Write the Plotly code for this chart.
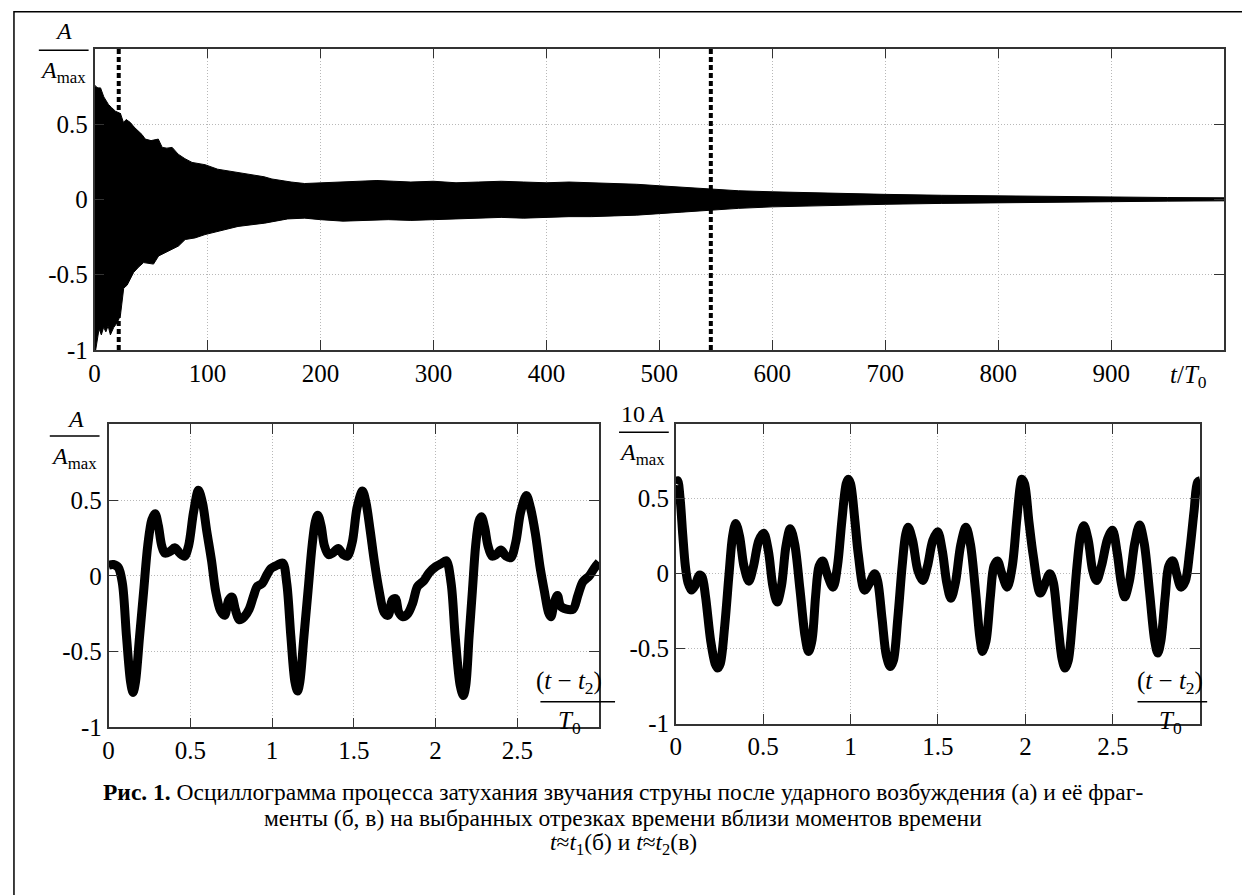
import plotly.graph_objects as go

W, H = 1242, 895
SERIF = "Liberation Serif"

# ---------------- data: panel (a) envelope of the decaying oscillogram ----------------
up_t = [0, 1, 3, 5.3, 8.2, 12.3, 15, 18.5, 22.9, 25.6, 28, 31.7, 35, 38.8, 42, 44.9, 50,
        56.4, 59.9, 64, 68.7, 74, 80, 86.3, 92, 97.8, 109, 118, 127, 135, 144, 150, 157,
        165, 174, 186, 200, 215, 230, 250, 265, 280, 300, 320, 340, 360, 380, 400, 420,
        440, 460, 480, 500, 520, 545, 570, 600, 630, 660, 700, 750, 800, 850, 900, 950, 1000]
up_a = [0.76, 0.75, 0.74, 0.74, 0.68, 0.63, 0.61, 0.585, 0.57, 0.51, 0.53, 0.51, 0.48, 0.455, 0.43, 0.40, 0.39,
        0.40, 0.345, 0.34, 0.345, 0.30, 0.27, 0.245, 0.24, 0.23, 0.20, 0.19, 0.18, 0.17, 0.16, 0.15, 0.135,
        0.125, 0.115, 0.105, 0.11, 0.115, 0.12, 0.125, 0.12, 0.115, 0.12, 0.11, 0.115, 0.12, 0.115, 0.11, 0.115,
        0.11, 0.105, 0.1, 0.09, 0.08, 0.068, 0.057, 0.05, 0.044, 0.038, 0.033, 0.027, 0.022, 0.018, 0.015, 0.012, 0.01]
lo_t = [0, 1, 2, 4, 6, 8, 10, 12, 14, 17, 20, 22.9, 25.8, 28.8, 34.6, 39, 43.4, 52.2, 56.7,
        65.5, 74.3, 80.2, 89, 97.8, 109.5, 127, 150.7, 171, 186, 200, 220, 240, 260, 280,
        300, 320, 340, 360, 380, 400, 420, 440, 460, 480, 500, 520, 545, 570, 600, 630,
        660, 700, 750, 800, 850, 900, 950, 1000]
lo_a = [-0.98, -1.0, -0.95, -0.86, -0.9, -0.85, -0.88, -0.84, -0.9, -0.85, -0.82, -0.77, -0.59, -0.57, -0.485, -0.45, -0.42, -0.43, -0.376,
        -0.343, -0.31, -0.267, -0.256, -0.234, -0.212, -0.18, -0.158, -0.13, -0.125, -0.135, -0.145, -0.14, -0.135, -0.14,
        -0.135, -0.13, -0.125, -0.12, -0.125, -0.12, -0.115, -0.115, -0.11, -0.105, -0.095, -0.085, -0.07, -0.06, -0.05, -0.044,
        -0.038, -0.033, -0.027, -0.022, -0.018, -0.015, -0.012, -0.01]
marker_t = [21.4, 545.6]

# ---------------- data: panel (б) fragment ----------------
b_t = [0.0, 0.03, 0.06, 0.085, 0.11, 0.135, 0.15, 0.165, 0.19, 0.215, 0.24, 0.265, 0.285, 0.305, 0.325,
       0.345, 0.375, 0.405, 0.435, 0.465, 0.49, 0.52, 0.55, 0.575, 0.6, 0.63, 0.655, 0.685, 0.71, 0.735,
       0.755, 0.775, 0.8, 0.83, 0.86, 0.885, 0.91, 0.94, 0.965, 0.995, 1.03, 1.065,
       1.09, 1.115, 1.14, 1.156, 1.17, 1.195, 1.22, 1.245, 1.265, 1.28, 1.3, 1.32, 1.345, 1.37, 1.405,
       1.435, 1.46, 1.49, 1.52, 1.553, 1.575, 1.6, 1.625, 1.655, 1.685, 1.71, 1.735, 1.755, 1.775, 1.8,
       1.83, 1.86, 1.89, 1.93, 1.96, 2.0, 2.035, 2.065,
       2.095, 2.12, 2.15, 2.17, 2.185, 2.205, 2.225, 2.245, 2.265, 2.28, 2.3, 2.32, 2.345, 2.37, 2.4,
       2.43, 2.46, 2.49, 2.52, 2.555, 2.58, 2.61, 2.64, 2.665, 2.69, 2.705, 2.725, 2.745, 2.765, 2.8,
       2.84, 2.87, 2.9, 2.94, 2.97, 3.0]
b_a = [0.07, 0.075, 0.055, -0.05, -0.4, -0.7, -0.77, -0.7, -0.4, -0.1, 0.2, 0.37, 0.41, 0.33, 0.2,
       0.15, 0.16, 0.185, 0.15, 0.13, 0.2, 0.42, 0.565, 0.48, 0.3, 0.1, -0.1, -0.23, -0.26, -0.16,
       -0.14, -0.22, -0.29, -0.27, -0.22, -0.14, -0.07, -0.05, 0.0, 0.05, 0.07, 0.085,
       -0.05, -0.4, -0.7, -0.76, -0.7, -0.4, -0.1, 0.2, 0.36, 0.4, 0.33, 0.2, 0.14, 0.15, 0.18,
       0.14, 0.13, 0.22, 0.45, 0.56, 0.48, 0.3, 0.1, -0.1, -0.24, -0.26, -0.16, -0.15, -0.24, -0.27,
       -0.25, -0.18, -0.07, -0.03, 0.02, 0.06, 0.08, 0.1,
       -0.05, -0.4, -0.72, -0.79, -0.72, -0.4, -0.1, 0.2, 0.36, 0.39, 0.32, 0.2, 0.13, 0.14, 0.17,
       0.13, 0.12, 0.22, 0.42, 0.53, 0.45, 0.28, 0.05, -0.1, -0.24, -0.27, -0.18, -0.13, -0.2, -0.22,
       -0.22, -0.13, -0.04, 0.0, 0.05, 0.09]

# ---------------- data: panel (в) fragment ----------------
c_t = [0.0, 0.011, 0.025, 0.04, 0.055, 0.07, 0.09, 0.11, 0.135, 0.15, 0.17, 0.2, 0.225, 0.24, 0.255,
       0.28, 0.305, 0.325, 0.343, 0.365, 0.39, 0.418, 0.445, 0.475, 0.503, 0.53, 0.555, 0.58, 0.605,
       0.63, 0.655, 0.68, 0.71, 0.74, 0.76, 0.78, 0.8, 0.82, 0.84, 0.865, 0.9, 0.925, 0.95, 0.975,
       0.987, 1.0, 1.025, 1.044, 1.08, 1.11, 1.138, 1.155, 1.18, 1.205, 1.227, 1.245, 1.27, 1.295,
       1.315, 1.33, 1.355, 1.385, 1.413, 1.44, 1.47, 1.498, 1.525, 1.55, 1.574, 1.6, 1.63, 1.66,
       1.685, 1.715, 1.74, 1.755, 1.775, 1.8, 1.82, 1.84, 1.865, 1.896, 1.925, 1.95, 1.97, 1.98,
       1.995, 2.02, 2.045, 2.085, 2.115, 2.14, 2.16, 2.185, 2.21, 2.227, 2.245, 2.27, 2.295, 2.318,
       2.335, 2.36, 2.385, 2.407, 2.435, 2.47, 2.498, 2.525, 2.548, 2.568, 2.595, 2.625, 2.653,
       2.68, 2.71, 2.74, 2.757, 2.775, 2.8, 2.82, 2.843, 2.865, 2.89, 2.915, 2.94, 2.965, 2.985, 3.0]
c_a = [0.6, 0.62, 0.5, 0.26, 0.05, -0.06, -0.11, -0.08, -0.01, -0.02, -0.15, -0.45, -0.6, -0.63, -0.6,
       -0.35, 0.0, 0.25, 0.335, 0.25, 0.05, -0.05, 0.05, 0.22, 0.27, 0.15, -0.08, -0.19, -0.08,
       0.18, 0.3, 0.2, -0.1, -0.42, -0.52, -0.44, -0.15, 0.05, 0.085, 0.0, -0.09, 0.05, 0.35, 0.6,
       0.63, 0.6, 0.35, 0.13, -0.11, -0.06, 0.0, -0.05, -0.3, -0.55, -0.62, -0.58, -0.3, 0.05,
       0.26, 0.31, 0.22, 0.02, -0.046, 0.05, 0.22, 0.28, 0.15, -0.06, -0.165, -0.06, 0.19, 0.31,
       0.2, -0.12, -0.43, -0.52, -0.45, -0.15, 0.05, 0.085, 0.0, -0.09, 0.05, 0.35, 0.58, 0.63,
       0.6, 0.35, 0.12, -0.13, -0.06, 0.0, -0.06, -0.32, -0.57, -0.63, -0.58, -0.3, 0.05, 0.27,
       0.32, 0.22, 0.02, -0.046, 0.05, 0.23, 0.29, 0.14, -0.06, -0.155, -0.05, 0.2, 0.325,
       0.2, -0.12, -0.45, -0.53, -0.45, -0.15, 0.05, 0.085, 0.0, -0.09, -0.05, 0.15, 0.42, 0.61, 0.62]

# ---------------- ticks ----------------
top_xticks = [0, 100, 200, 300, 400, 500, 600, 700, 800, 900]
top_xlabels = ["0", "100", "200", "300", "400", "500", "600", "700", "800", "900"]
frag_xticks = [0, 0.5, 1, 1.5, 2, 2.5]
frag_xlabels = ["0", "0.5", "1", "1.5", "2", "2.5"]
yticks = [-1, -0.5, 0, 0.5]
ylabels = ["-1", "-0.5", "0", "0.5"]

caption1 = "<b>Рис. 1.</b> Осциллограмма процесса затухания звучания струны после ударного возбуждения (а) и её фраг-"
caption2 = "менты (б, в) на выбранных отрезках времени вблизи моментов времени"
caption3 = "<i>t</i>≈<i>t</i><sub>1</sub>(б) и <i>t</i>≈<i>t</i><sub>2</sub>(в)"


def fx(x):
    return x / W


def fy(y):
    return 1 - y / H


fig = go.Figure()

# panel (a)
fig.add_trace(go.Scatter(x=up_t + lo_t[::-1], y=up_a + lo_a[::-1], mode="lines",
                         fill="toself", fillcolor="black", line=dict(color="black", width=1),
                         xaxis="x", yaxis="y", showlegend=False, hoverinfo="skip"))
for t in marker_t:
    fig.add_trace(go.Scatter(x=[t, t], y=[-1, 1], mode="lines",
                             line=dict(color="black", width=4, dash="5px,3px"),
                             xaxis="x", yaxis="y", showlegend=False))

# panel (б)
fig.add_trace(go.Scatter(x=b_t, y=b_a, mode="lines",
                         line=dict(color="black", width=9, shape="spline", smoothing=0.9),
                         xaxis="x2", yaxis="y2", showlegend=False))
# panel (в)
fig.add_trace(go.Scatter(x=c_t, y=c_a, mode="lines",
                         line=dict(color="black", width=9, shape="spline", smoothing=0.9),
                         xaxis="x3", yaxis="y3", showlegend=False))


def axis(domain, rng, tickvals, ticktext, anchor):
    return dict(domain=domain, range=rng, anchor=anchor, tickvals=tickvals, ticktext=ticktext,
                ticks="inside", ticklen=10, tickwidth=1, tickcolor="#333333",
                showline=True, linecolor="#333333", linewidth=1.5, mirror="allticks",
                showgrid=True, gridcolor="#b8b8b8", griddash="1px,2px", gridwidth=1,
                zeroline=False, tickfont=dict(family=SERIF, size=25, color="black"),
                fixedrange=True)


layout = dict(
    width=W, height=H, margin=dict(l=0, r=0, t=0, b=0),
    font=dict(family=SERIF, color="black"),
    paper_bgcolor="white", plot_bgcolor="white", showlegend=False,
    xaxis=axis([fx(89), fx(1224)], [0, 1000], top_xticks, top_xlabels, "y"),
    yaxis=axis([fy(355.5), fy(49.5)], [-1, 1], yticks, ylabels, "x"),
    xaxis2=axis([fx(103), fx(596)], [0, 3], frag_xticks, frag_xlabels, "y2"),
    yaxis2=axis([fy(739), fy(431)], [-1, 1], yticks, ylabels, "x2"),
    xaxis3=axis([fx(673), fx(1200)], [0, 3], frag_xticks, frag_xlabels, "y3"),
    yaxis3=axis([fy(735), fy(430.5)], [-1, 1], yticks, ylabels, "x3"),
)
fig.update_layout(**layout)

ann = []
shapes = []


def text(x, y, s, size=24, xanchor="center"):
    ann.append(dict(x=fx(x), y=fy(y), xref="paper", yref="paper", text=s, showarrow=False,
                    xanchor=xanchor, yanchor="middle", font=dict(family=SERIF, size=size, color="black")))


def hline(x0, x1, y):
    shapes.append(dict(type="line", xref="paper", yref="paper", x0=fx(x0), x1=fx(x1), y0=fy(y), y1=fy(y),
                       line=dict(color="black", width=1.5)))


# y-axis fraction labels
text(58, 31, "<i>A</i>", 24)
hline(33, 83, 51)
text(57, 73, "<i>A</i><sub>max</sub>", 24)

text(70, 426, "<i>A</i>", 24)
hline(44, 94, 443)
text(68, 465, "<i>A</i><sub>max</sub>", 24)

text(640, 421, "10\u2009<i>A</i>", 24)
hline(616, 666, 439)
text(639, 461, "<i>A</i><sub>max</sub>", 24)

# x-axis labels
text(1188, 382, "<i>t</i>/<i>T</i><sub>0</sub>", 25)
text(566, 693, "(<i>t</i> − <i>t</i><sub>2</sub>)", 25)
hline(537, 612, 713)
text(566, 734, "<i>T</i><sub>0</sub>", 25)
text(1170, 693, "(<i>t</i> − <i>t</i><sub>2</sub>)", 25)
hline(1137, 1207, 713)
text(1170, 734, "<i>T</i><sub>0</sub>", 25)

# caption
text(620, 805, caption1, 23.5)
text(620, 831, caption2, 23.5)
text(620, 857, caption3, 23.5)

# outer frame
shapes.append(dict(type="rect", xref="paper", yref="paper", x0=fx(8), x1=fx(1260), y0=fy(910), y1=fy(12),
                   line=dict(color="black", width=1.5), layer="below"))

fig.update_layout(annotations=ann, shapes=shapes)
fig.write_html("out.html")
